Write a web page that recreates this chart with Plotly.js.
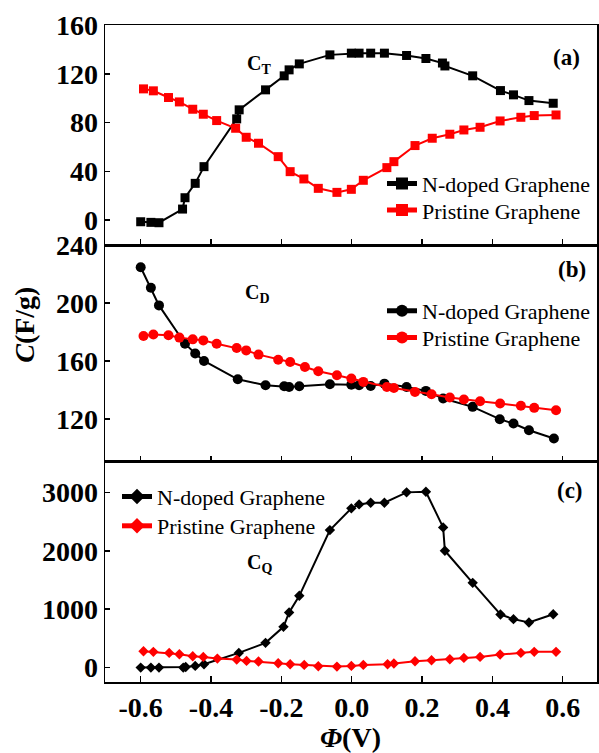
<!DOCTYPE html>
<html><head><meta charset="utf-8">
<script src="https://cdn.plot.ly/plotly-3.0.1.min.js"></script>
<style>html,body{margin:0;padding:0;background:#fff}#chart{width:599px;height:753px}</style>
</head><body><div id="chart"></div>
<script>
// Panel (a): C_T
const phiA_N = [-0.600,-0.571,-0.548,-0.481,-0.474,-0.445,-0.420,-0.327,-0.320,-0.245,-0.192,-0.178,-0.149,-0.062,-0.001,0.021,0.054,0.093,0.156,0.211,0.258,0.265,0.344,0.423,0.460,0.504,0.573];
const CT_N = [-1.4,-1.9,-2.2,9.0,18.3,30.1,43.8,83.0,90.4,106.8,118.3,123.2,128.1,135.5,136.9,136.9,136.9,136.9,135.0,132.5,128.8,126.4,118.3,106.2,102.7,98.0,95.8];
const phiA_P = [-0.592,-0.564,-0.521,-0.490,-0.452,-0.422,-0.384,-0.330,-0.300,-0.265,-0.209,-0.175,-0.136,-0.095,-0.042,-0.001,0.033,0.100,0.120,0.180,0.229,0.279,0.319,0.365,0.422,0.481,0.519,0.581];
const CT_P = [107.6,106.0,100.5,96.9,90.9,86.8,81.6,75.3,67.9,63.0,52.0,39.7,33.7,26.0,22.7,25.2,32.6,43.0,47.9,61.1,67.1,70.4,73.9,76.1,81.3,84.3,85.7,86.2];
// Panel (b): C_D
const phiB_N = [-0.600,-0.571,-0.548,-0.474,-0.445,-0.420,-0.324,-0.245,-0.192,-0.178,-0.149,-0.062,-0.001,0.021,0.054,0.093,0.156,0.211,0.260,0.344,0.421,0.460,0.504,0.575];
const CD_N = [224.7,210.5,198.4,172.0,165.2,160.1,147.5,143.4,142.7,142.2,142.7,144.1,143.8,143.4,142.9,144.5,142.2,139.5,134.2,128.5,120.0,117.0,112.4,106.7];
const phiB_P = [-0.592,-0.564,-0.521,-0.490,-0.452,-0.422,-0.384,-0.327,-0.300,-0.265,-0.209,-0.175,-0.133,-0.095,-0.042,-0.001,0.033,0.100,0.120,0.180,0.227,0.279,0.319,0.365,0.422,0.481,0.519,0.581];
const CD_P = [177.3,178.4,177.8,176.2,175.0,174.3,172.0,169.0,167.4,164.5,161.0,159.4,156.0,153.0,150.3,148.0,145.7,142.2,141.5,138.8,137.2,134.9,133.5,132.4,130.8,129.2,127.8,126.2];
// Panel (c): C_Q
const phiC_N = [-0.600,-0.571,-0.548,-0.479,-0.472,-0.445,-0.420,-0.321,-0.245,-0.194,-0.178,-0.149,-0.062,-0.001,0.021,0.054,0.093,0.156,0.211,0.260,0.265,0.344,0.423,0.460,0.504,0.573];
const CQ_N = [0,0,0,0,11,29,57,251,423,697,943,1229,2354,2726,2794,2823,2823,3000,3011,2400,2000,1451,909,829,771,914];
const phiC_P = [-0.592,-0.564,-0.519,-0.490,-0.452,-0.422,-0.382,-0.327,-0.299,-0.265,-0.209,-0.175,-0.135,-0.095,-0.042,-0.001,0.033,0.102,0.120,0.180,0.227,0.279,0.319,0.365,0.422,0.481,0.519,0.581];
const CQ_P = [280,269,251,229,194,183,154,137,114,103,74,57,46,23,17,29,46,57,69,109,126,143,166,183,223,251,269,269];

const seriesNames = ['N-doped Graphene','Pristine Graphene'];
const xTicks = [-0.6,-0.4,-0.2,0.0,0.2,0.4,0.6];
const xTickText = ['-0.6','-0.4','-0.2','0.0','0.2','0.4','0.6'];
const yTicksA = [0,40,80,120,160];
const yTicksB = [120,160,200,240];
const yTicksC = [0,1000,2000,3000];

const FONT = 'Liberation Serif, Times New Roman, serif';
const BLACK = '#000000', RED = '#ff0000';

function tr(x, y, name, color, symbol, size, xa, ya, leg) {
  return {x: x, y: y, name: name, type: 'scatter', mode: 'lines+markers',
    xaxis: xa, yaxis: ya, legend: leg,
    line: {color: color, width: 2},
    marker: {color: color, symbol: symbol, size: size}};
}

const data = [
  tr(phiA_N, CT_N, seriesNames[0], BLACK, 'square', 9, 'x', 'y', 'legend'),
  tr(phiA_P, CT_P, seriesNames[1], RED, 'square', 9, 'x', 'y', 'legend2'),
  tr(phiB_N, CD_N, seriesNames[0], BLACK, 'circle', 10, 'x2', 'y2', 'legend3'),
  tr(phiB_P, CD_P, seriesNames[1], RED, 'circle', 10, 'x2', 'y2', 'legend4'),
  tr(phiC_N, CQ_N, seriesNames[0], BLACK, 'diamond', 8, 'x3', 'y3', 'legend5'),
  tr(phiC_P, CQ_P, seriesNames[1], RED, 'diamond', 8, 'x3', 'y3', 'legend6')
];

function xax(anchor, showLabels) {
  return {anchor: anchor, range: [-0.7015, 0.6975], tickvals: xTicks, ticktext: xTickText,
    showticklabels: showLabels, ticks: 'inside', ticklen: 6, tickwidth: 1.5, tickcolor: BLACK,
    showline: true, mirror: true, linewidth: 1.5, linecolor: BLACK,
    showgrid: false, zeroline: false,
    tickfont: {family: FONT, size: 28, color: BLACK, weight: 'bold'}};
}
function yax(anchor, domain, range, ticks) {
  return {anchor: anchor, domain: domain, range: range, tickvals: ticks,
    ticks: 'inside', ticklen: 5, tickwidth: 1.5, tickcolor: BLACK,
    showline: true, mirror: true, linewidth: 1.5, linecolor: BLACK,
    showgrid: false, zeroline: false, ticklabelstandoff: 0,
    tickfont: {family: FONT, size: 28, color: BLACK, weight: 'bold'}};
}
const legFont = {family: FONT, size: 22, color: BLACK};
function leg(x, y) {
  return {x: x, y: y, xanchor: 'left', yanchor: 'top', bgcolor: 'rgba(0,0,0,0)',
    borderwidth: 0, font: legFont, tracegroupgap: 0, itemsizing: 'constant'};
}
function ann(text, x, y, size, angle) {
  return {text: text, x: x, y: y, xref: 'paper', yref: 'paper', showarrow: false,
    xanchor: 'center', yanchor: 'middle', textangle: angle || 0,
    font: {family: FONT, size: size, color: BLACK}};
}

const layout = {
  width: 599, height: 753,
  margin: {l: 105, r: 2, t: 25, b: 71},
  paper_bgcolor: '#ffffff', plot_bgcolor: '#ffffff',
  showlegend: true,
  xaxis: xax('y', false),
  xaxis2: xax('y2', false),
  xaxis3: xax('y3', true),
  yaxis: yax('x', [0.6651, 1], [-20.5, 160], yTicksA),
  yaxis2: yax('x2', [0.3353, 0.6651], [90.7, 240], yTicksB),
  yaxis3: yax('x3', [0, 0.3353], [-247, 3525], yTicksC),
  legend: leg(0.563, 0.7904),
  legend2: leg(0.563, 0.7499),
  legend3: leg(0.563, 0.5967),
  legend4: leg(0.563, 0.5560),
  legend5: leg(0.0244, 0.3140),
  legend6: leg(0.0244, 0.2694),
  annotations: [
    ann('<b>(a)</b>', 0.939, 0.9498, 23),
    ann('<b>(b)</b>', 0.949, 0.6286, 23),
    ann('<b>(c)</b>', 0.945, 0.2922, 23),
    ann('<b>C<sub>T</sub></b>', 0.314, 0.9406, 20),
    ann('<b>C<sub>D</sub></b>', 0.31, 0.592, 20),
    ann('<b>C<sub>Q</sub></b>', 0.315, 0.181, 20),
    ann('<b><i>C</i>(F/g)</b>', -0.163, 0.5434, 28, -90),
    ann('<b><i>Φ</i>(V)</b>', 0.498, -0.0852, 28)
  ]
};

Plotly.newPlot('chart', data, layout, {displayModeBar: false, staticPlot: true});
</script>
</body></html>
